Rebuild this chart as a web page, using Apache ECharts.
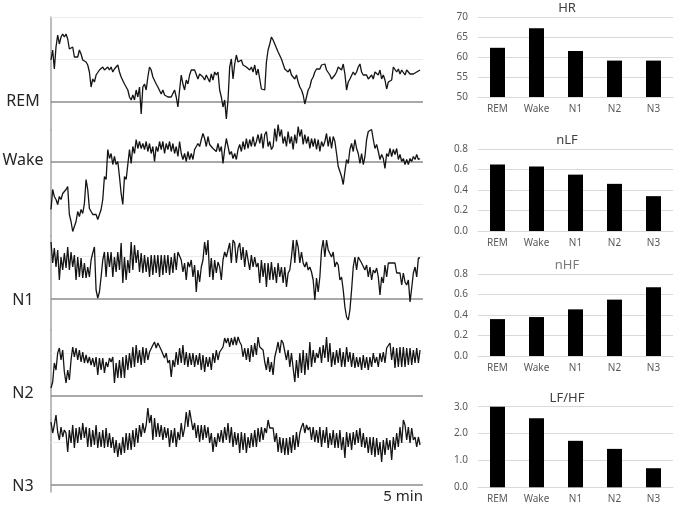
<!DOCTYPE html>
<html>
<head>
<meta charset="utf-8">
<script src="https://cdn.jsdelivr.net/npm/echarts@6/dist/echarts.min.js"></script>
<style>
  html, body { margin: 0; padding: 0; background: #fff; }
  #main { width: 677px; height: 506px; }
</style>
</head>
<body>
<div id="main"></div>
<script>
// sleep stages, shared by the traces and the bar charts
var stages = ['REM', 'Wake', 'N1', 'N2', 'N3'];

// mean values per stage (right hand bar charts)
var hrMean = [62.3, 67.2, 61.5, 59.1, 59.1];
var nLF = [0.65, 0.63, 0.55, 0.46, 0.34];
var nHF = [0.36, 0.38, 0.455, 0.55, 0.67];
var lfHf = [3.0, 2.57, 1.73, 1.43, 0.71];

// 5 min heart rate traces, relative to each stage baseline
var traceREM = [42,52,33,55,67,58,65,68,65,68,63,53,52,55,45,43,45,52,48,42,43,40,37,30,15,23,20,27,25,32,30,35,32,33,35,32,35,30,33,32,37,30,25,23,18,15,12,5,2,7,2,12,5,15,-12,15,18,12,25,35,32,25,23,18,15,13,8,12,7,8,5,7,5,7,12,5,-5,12,27,18,12,22,18,27,32,33,32,30,23,28,27,25,22,27,25,20,28,22,30,27,30,12,5,-5,2,-17,2,35,43,23,38,47,40,38,42,37,38,35,37,32,35,30,37,27,33,35,13,12,12,40,52,58,65,62,58,60,50,50,43,38,33,33,30,33,27,28,23,27,20,15,12,7,-2,5,12,15,22,25,30,33,35,33,37,35,38,32,30,27,23,25,27,30,35,37,32,38,28,12,20,23,22,30,27,30,35,38,30,27,25,27,23,25,27,23,30,32,27,32,23,27,22,13,20,18,22,35,33,30,33,28,32,30,27,32,30,28,27,28,28,30,32,32];
var traceWake = [-48,-28,-35,-38,-43,-35,-38,-32,-30,-28,-25,-53,-60,-70,-72,-60,-50,-55,-48,-52,-42,-18,-28,-47,-48,-53,-55,-53,-58,-57,-48,-38,-15,-18,12,3,8,-3,5,-3,0,-15,-32,-43,-15,-18,-3,12,-2,15,8,22,13,20,13,18,12,20,10,18,8,15,0,15,10,20,12,20,8,18,12,20,10,18,8,15,5,20,8,2,8,0,10,2,8,2,12,13,18,15,22,28,23,15,25,17,18,13,15,10,18,10,15,-2,12,23,15,7,10,3,8,2,12,17,10,20,12,23,13,22,15,25,15,20,27,18,28,13,27,30,15,20,12,15,33,20,37,25,32,18,25,15,30,18,25,12,27,18,35,25,32,17,27,18,25,13,23,15,23,12,22,10,20,15,20,28,15,25,13,25,20,8,-5,-10,-15,-23,-10,2,-2,12,18,10,22,13,8,-2,8,-3,5,22,30,30,32,22,13,17,10,2,7,3,-7,8,5,13,5,12,7,13,2,7,0,3,-3,2,-3,3,0,5,2,7,2,3];
var traceN1 = [57,36,51,32,49,19,42,29,46,31,52,29,47,32,44,19,42,22,41,21,36,21,32,22,39,46,52,9,1,7,22,39,47,22,47,32,47,22,42,27,47,29,56,16,42,19,39,26,57,29,54,36,49,27,46,26,44,27,42,22,44,24,44,26,44,22,44,24,44,26,44,24,42,26,46,29,47,46,39,27,36,19,37,32,39,22,34,7,29,17,32,39,57,44,59,22,41,19,39,26,37,32,19,39,47,42,49,56,36,59,56,36,51,56,39,52,32,49,39,29,44,32,42,32,36,16,39,22,36,12,36,19,37,19,32,16,36,22,32,16,32,12,26,29,42,59,36,59,52,36,47,36,32,37,29,32,27,19,-1,21,7,22,49,59,42,59,49,51,42,47,32,37,34,19,22,9,-8,-18,-21,-11,9,32,42,29,42,41,36,37,29,34,22,32,19,29,26,31,22,4,22,16,34,22,36,37,36,37,36,26,27,26,14,26,17,14,19,-3,11,26,32,22,41,41];
var traceN2 = [8,14,33,26,43,48,36,46,24,13,26,16,36,49,39,48,36,46,34,44,33,41,33,39,31,38,29,39,21,38,26,38,23,34,29,38,34,39,13,33,18,36,18,39,18,41,26,43,28,49,29,51,33,46,31,49,33,48,36,44,43,51,54,48,53,54,46,46,38,43,33,36,19,36,29,44,31,48,33,51,31,44,29,43,31,43,29,41,31,43,26,41,24,39,29,39,26,43,33,46,36,44,46,49,58,53,58,49,58,51,59,51,59,54,51,39,48,36,48,34,51,39,53,41,59,49,51,46,34,26,39,24,34,21,39,46,54,43,56,53,51,36,46,29,43,28,14,36,18,43,23,46,21,43,26,54,29,46,33,43,38,49,33,51,38,59,34,53,29,44,31,46,33,48,29,44,29,49,34,44,29,43,28,39,29,39,26,41,28,39,26,39,29,43,33,39,29,43,34,44,33,48,49,53,36,49,28,48,29,49,29,49,29,48,31,48,31,46,33,48,33,46];
var traceN3 = [63,52,60,70,53,45,58,48,55,52,33,55,42,60,37,57,42,58,45,62,47,58,38,57,38,55,40,60,37,53,38,55,37,57,38,52,37,48,32,45,28,42,30,48,32,52,35,52,35,55,38,57,42,60,48,62,52,60,77,62,70,45,67,48,62,48,60,45,58,47,57,38,55,42,57,38,53,45,62,48,57,73,58,75,73,55,62,47,60,43,60,45,60,47,58,42,52,33,48,38,52,43,55,42,58,45,62,42,58,38,53,40,52,32,53,35,52,32,48,37,52,38,55,38,57,43,58,45,57,52,65,57,55,57,43,52,33,48,32,47,30,47,30,48,32,50,35,53,38,52,58,62,52,60,55,58,45,58,43,55,42,58,38,55,42,58,37,52,40,55,37,52,37,55,35,48,27,53,38,52,35,53,40,55,42,57,38,52,37,48,32,48,30,48,28,47,30,43,23,45,30,47,35,45,25,48,35,52,38,58,42,65,60,45,58,42,57,45,48,38,48,40];

var traces = [traceREM, traceWake, traceN1, traceN2, traceN3];

// left panel bands: [top, bottom, baseline, faint line offset]
var bands = [
  [17, 130, 102, 42.5],
  [130, 236, 161.5, -42.5],
  [236, 330, 299, 42.5],
  [330, 420, 396, 42.5],
  [420, 492, 485, 42.5]
];
var labelY = [101, 160, 300, 393, 486];

var myChart = echarts.init(document.getElementById('main'));

var font = '"Noto Sans", "Open Sans", sans-serif';
var grid = [], xAxis = [], yAxis = [], series = [], graphic = [];

traces.forEach(function (tr, k) {
  var b = bands[k];
  grid.push({ left: 51, width: 372, top: b[0], height: b[1] - b[0] });
  xAxis.push({
    gridIndex: k, type: 'value', min: 0, max: (tr.length - 1) * 1.008,
    axisLine: { show: false }, axisTick: { show: false },
    axisLabel: { show: false }, splitLine: { show: false }
  });
  yAxis.push({
    gridIndex: k, type: 'value', min: -(b[1] - b[2]), max: b[2] - b[0],
    axisLine: { show: true, lineStyle: { color: '#a6a6a6', width: 1.5 } },
    axisTick: { show: false }, axisLabel: { show: false }, splitLine: { show: false }
  });
  var marks = [
    { yAxis: 0, lineStyle: { color: '#8c8c8c', width: 1.5, type: 'solid' } },
    { yAxis: b[3], lineStyle: { color: '#ebebeb', width: 1, type: 'solid' } }
  ];
  if (k === 0) marks.push({ yAxis: 85, lineStyle: { color: '#ebebeb', width: 1, type: 'solid' } });
  series.push({
    type: 'line', xAxisIndex: k, yAxisIndex: k,
    data: tr.map(function (v, i) { return [i, v]; }),
    showSymbol: false, clip: false, z: 3,
    lineStyle: { color: '#141414', width: 1.3 },
    markLine: { silent: true, symbol: 'none', label: { show: false }, z: 2, data: marks }
  });
  graphic.push({
    type: 'text', x: 23, y: labelY[k],
    style: { text: stages[k], font: '16px ' + font, fill: '#262626',
             align: 'center', verticalAlign: 'middle', textAlign: 'center', textVerticalAlign: 'middle' }
  });
});

graphic.push({
  type: 'text', x: 423, y: 497,
  style: { text: '5 min', font: '15px ' + font, fill: '#262626',
           align: 'right', verticalAlign: 'middle', textAlign: 'right', textVerticalAlign: 'middle' }
});

// right panel bar charts
var bars = [
  { name: 'HR', data: hrMean, top: 17, height: 80, min: 50, max: 70, interval: 5, dec: 0, titleY: 8, color: '#404040' },
  { name: 'nLF', data: nLF, top: 149, height: 82, min: 0, max: 0.8, interval: 0.2, dec: 1, titleY: 140, color: '#404040' },
  { name: 'nHF', data: nHF, top: 274, height: 82, min: 0, max: 0.8, interval: 0.2, dec: 1, titleY: 265, color: '#7a7a7a' },
  { name: 'LF/HF', data: lfHf, top: 406.7, height: 80.6, min: 0, max: 3, interval: 1, dec: 1, titleY: 398, color: '#404040' }
];

bars.forEach(function (c, j) {
  var g = grid.length;
  grid.push({ left: 478, width: 195, top: c.top, height: c.height });
  xAxis.push({
    gridIndex: g, type: 'category', data: stages,
    axisLine: { lineStyle: { color: '#d9d9d9' } }, axisTick: { show: false },
    axisLabel: { color: '#595959', fontSize: 10, margin: 7, fontFamily: font }
  });
  yAxis.push({
    gridIndex: g, type: 'value', min: c.min, max: c.max, interval: c.interval,
    axisLine: { show: false }, axisTick: { show: false },
    splitLine: { lineStyle: { color: '#d9d9d9' } },
    axisLabel: {
      color: '#595959', fontSize: 10, margin: 10, fontFamily: font,
      formatter: (function (d) { return function (v) { return v.toFixed(d); }; })(c.dec)
    }
  });
  series.push({
    type: 'bar', name: c.name, xAxisIndex: g, yAxisIndex: g,
    data: c.data, barWidth: 15, itemStyle: { color: '#000' }
  });
  graphic.push({
    type: 'text', x: 567, y: c.titleY,
    style: { text: c.name, font: '13px ' + font, fill: c.color,
             align: 'center', verticalAlign: 'middle', textAlign: 'center', textVerticalAlign: 'middle' }
  });
});

var option = {
  animation: false,
  backgroundColor: '#fff',
  grid: grid,
  xAxis: xAxis,
  yAxis: yAxis,
  series: series,
  graphic: graphic
};

myChart.setOption(option);
</script>
</body>
</html>
